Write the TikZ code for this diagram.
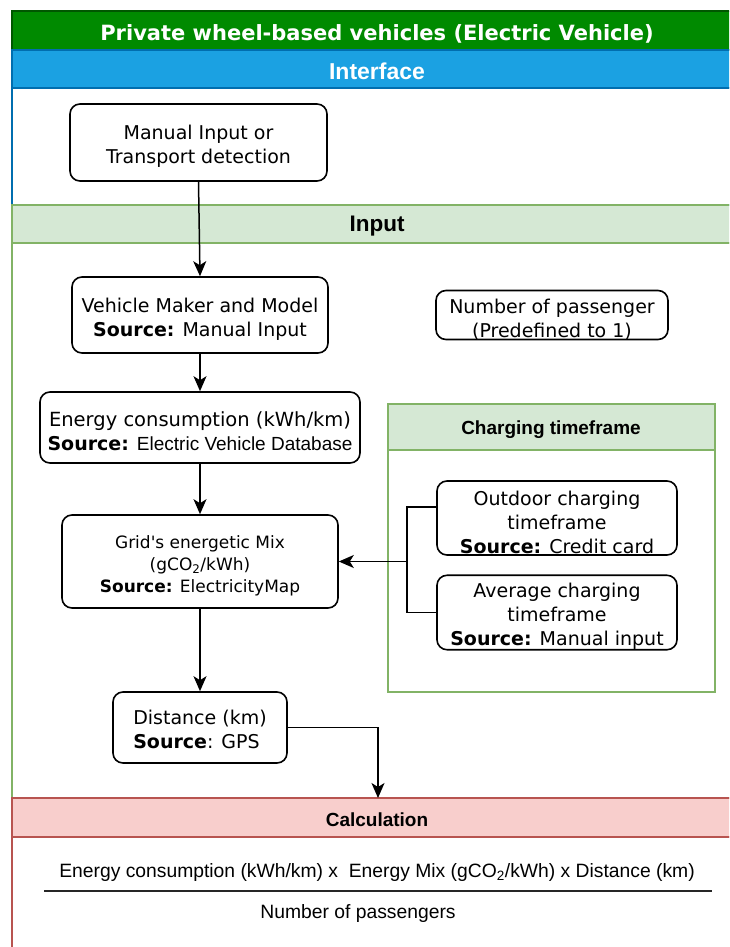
\documentclass[tikz,border=0pt]{standalone}
\usepackage{fontspec}
\setmainfont{DejaVu Sans}
\newfontfamily\lib{Liberation Sans}
\usetikzlibrary{arrows.meta}
\definecolor{tgreen}{HTML}{008A00}
\definecolor{tgreenD}{HTML}{005700}
\definecolor{iblue}{HTML}{1BA1E2}
\definecolor{iblueD}{HTML}{006EAF}
\definecolor{pgreen}{HTML}{D5E8D4}
\definecolor{pgreenD}{HTML}{82B366}
\definecolor{pred}{HTML}{F8CECC}
\definecolor{predD}{HTML}{B85450}
\newcommand\tstrut[1]{\rule{0pt}{#1}}
\tikzset{
  box/.style={draw=black, line width=1.6pt, rounded corners=10pt, fill=white, align=center, inner sep=0pt,
    font=\fontsize{19}{24}\selectfont},
  arr/.style={line width=1.5pt, -{Stealth[length=15pt,width=13pt,inset=4pt]}},
  conn/.style={line width=1.5pt},
  hdr/.style={font=\lib\bfseries\fontsize{19}{23}\selectfont, text=black},
}
\begin{document}
\begin{tikzpicture}[x=1pt,y=-1pt]
\useasboundingbox (0,0) rectangle (729,947);
\clip (0,0) rectangle (729,947);
\fill[white] (0,0) rectangle (729,947);
% sections
\draw[draw=iblueD, line width=1.5pt] (12,88) rectangle (745,205);
\draw[draw=pgreenD, line width=1.8pt] (12,243) rectangle (745,798);
\draw[draw=predD, line width=1.8pt] (12,837) rectangle (745,965);
\draw[fill=tgreen, draw=tgreenD, line width=1.5pt] (12,11) rectangle (745,50);
\draw[fill=iblue, draw=iblueD, line width=1.5pt] (12,50) rectangle (745,88);
\draw[fill=pgreen, draw=pgreenD, line width=1.8pt] (12,205) rectangle (745,243);
\draw[fill=pred, draw=predD, line width=1.8pt] (12,798) rectangle (745,837);
\node[text=white, font=\bfseries\fontsize{21}{25}\selectfont] (title) at (377,34) {Private wheel-based vehicles (Electric Vehicle)};
\node[text=white, font=\lib\bfseries\fontsize{23}{27}\selectfont] (iface) at (377,71) {Interface};
\node[font=\lib\bfseries\fontsize{22.5}{26}\selectfont] (inp) at (377,226.5) {Input};
\node[hdr] (calc) at (377,819.5) {Calculation};
% charging timeframe box
\draw[draw=pgreenD, line width=1.8pt] (388,404) rectangle (715,692);
\draw[fill=pgreen, draw=pgreenD, line width=1.8pt] (388,404) rectangle (715,450);
\node[hdr] (chg) at (551,429.5) {Charging timeframe};
% nodes
\node[box, minimum width=257pt, minimum height=77pt] (man) at (198.5,142.5) {\tstrut{22.5pt}Manual Input or\\Transport detection};
\node[box, minimum width=256pt, minimum height=76pt] (veh) at (200,315) {\tstrut{22.5pt}Vehicle Maker and Model\\\textbf{Source:} Manual Input};
\node[box, minimum width=232pt, minimum height=48pt] (pas) at (552,315) {\tstrut{22.5pt}Number of passenger\\(Predefined to 1)};
\node[box, minimum width=320pt, minimum height=71pt] (ene) at (200,427.5) {{\fontsize{19.5}{24}\selectfont\tstrut{22.5pt}Energy consumption (kWh/km)}\\\textbf{Source:} {\lib Electric Vehicle Database}};
\node[box, minimum width=276pt, minimum height=93pt, font=\fontsize{17}{22}\selectfont] (grid) at (200,561.5) {\tstrut{21pt}{\addfontfeature{Ligatures=TeXOff}Grid's} energetic Mix\\(gCO\textsubscript{2}/kWh)\\\textbf{Source:} ElectricityMap};
\node[box, minimum width=174pt, minimum height=71pt] (dist) at (200,727.5) {\begin{tabular}{@{}l@{}}\tstrut{24.8pt}Distance (km)\\\textbf{Source}: GPS\end{tabular}};
\node[box, minimum width=240pt, minimum height=74pt] (out) at (557,518) {\tstrut{22.5pt}Outdoor charging\\timeframe\\\textbf{Source:} Credit card};
\node[box, minimum width=240pt, minimum height=71pt] (avg) at (557,612.5) {\tstrut{22.5pt}Average charging\\timeframe\\\textbf{Source:} Manual input};
% connectors
\draw[arr] (man.south) -- (veh.north);
\draw[arr] (veh.south) -- (ene.north);
\draw[arr] (ene.south) -- (grid.north);
\draw[arr] (grid.south) -- (dist.north);
\coordinate (calctop) at (378,798);
\draw[arr] (dist.east) -| (calctop);
\coordinate (br) at (407,561.5);
\draw[conn] ([yshift=11pt]out.west) -| (br);
\draw[conn] (avg.west) -| (br);
\draw[arr] (br) -- (grid.east);
% formula
\node[font=\lib\fontsize{19.3}{23}\selectfont] (fnum) at (377,872) {Energy consumption (kWh/km) x\ \ Energy Mix (gCO\textsubscript{2}/kWh) x Distance (km)};
\coordinate (fl) at (44,891);
\coordinate (fr) at (712,891);
\draw[line width=1.6pt, draw=black!85] (fl) -- (fr);
\node[font=\lib\fontsize{19.3}{23}\selectfont] (fden) at (358,913) {Number of passengers};
\end{tikzpicture}
\end{document}
